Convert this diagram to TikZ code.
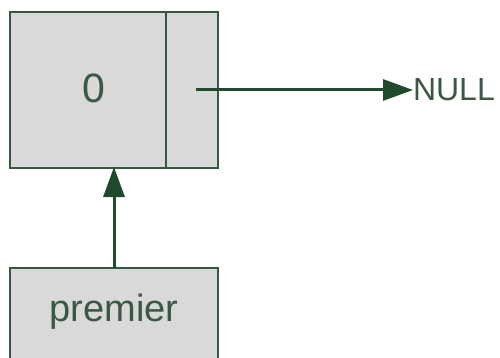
\documentclass[tikz,border=0pt]{standalone}
\usepackage{fontspec}
\setmainfont{Liberation Sans}
\usetikzlibrary{arrows.meta}
\definecolor{boxline}{HTML}{33593F}
\definecolor{arrowc}{HTML}{1F4A2C}
\definecolor{boxfill}{HTML}{D9D9D9}
\definecolor{txt}{HTML}{3A5844}
\tikzset{
  cell/.style={draw=boxline, fill=boxfill, line width=2pt, inner sep=0pt, outer sep=0pt},
  conn/.style={draw=arrowc, line width=3pt, -{Triangle[length=30pt,width=21pt]}},
  lbl/.style={text=txt, inner sep=0pt, outer sep=0pt}
}
\begin{document}
\begin{tikzpicture}[x=1pt,y=-1pt]
\fill[white] (0,0) rectangle (500,358);
\clip (0,0) rectangle (500,358);
\node[cell, minimum width=156pt, minimum height=156pt] (val) at (88,90) {};
\node[cell, minimum width=52pt, minimum height=156pt] (ptr) at (192,90) {};
\node[lbl, font=\fontsize{41}{44}\selectfont] (zero) at (94,88) {0};
\node[cell, minimum width=208pt, minimum height=100pt] (prem) at (114,318) {};
\node[lbl, font=\fontsize{38}{42}\selectfont] (premtxt) at (114,312) {premier};
\node[lbl, anchor=west, font=\fontsize{32}{36}\selectfont] (null) at (413,90) {NULL};
\coordinate (ptrstart) at (196,90);
\draw[conn] (ptrstart) -- (null.west);
\draw[conn] (prem.north) -- ([yshift=1pt]prem.north |- val.south);
\end{tikzpicture}
\end{document}
